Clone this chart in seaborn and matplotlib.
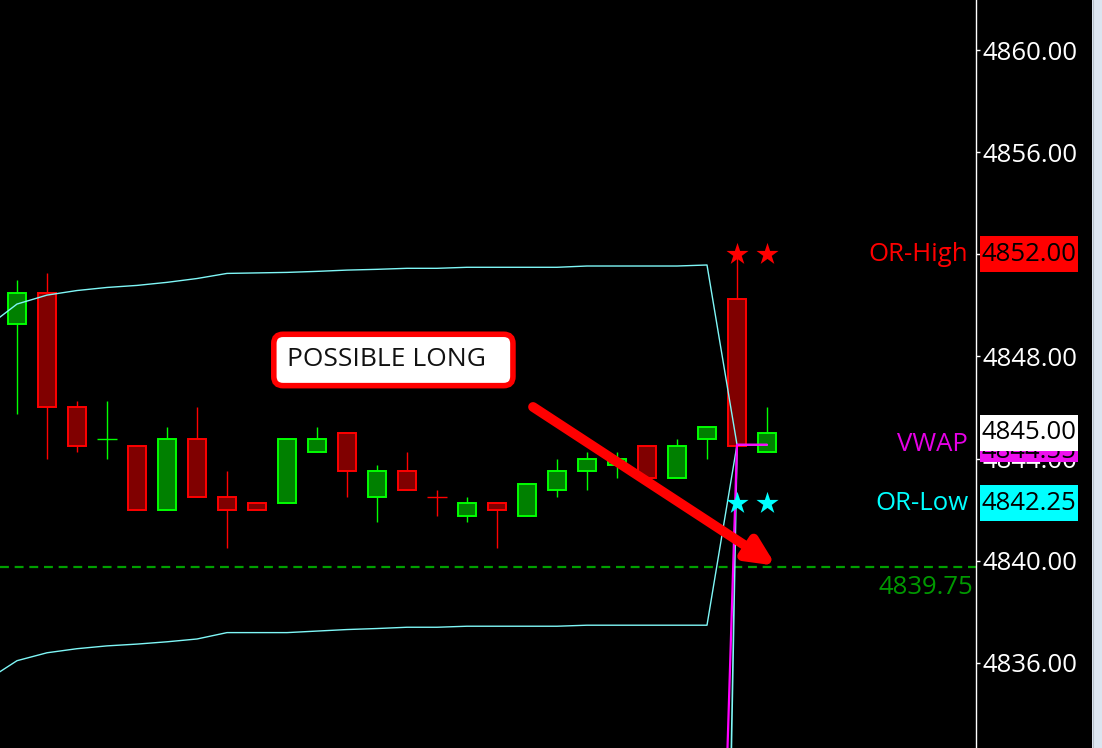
import matplotlib
matplotlib.use("Agg")
import matplotlib.pyplot as plt
import matplotlib.patches as mpatches
import numpy as np
import pandas as pd
import seaborn as sns

# candle data (one bar per slot)
opens = [4849.25, 4850.5, 4846.0, 4844.75, 4844.5, 4842.0, 4844.75, 4842.5, 4842.25, 4842.25,
         4844.25, 4845.0, 4842.5, 4843.5, 4842.5, 4841.75, 4842.25, 4841.75, 4842.75, 4843.5,
         4843.75, 4844.5, 4843.25, 4844.75, 4850.25, 4844.25]
highs = [4851.0, 4851.25, 4846.25, 4846.25, 4844.5, 4845.25, 4846.0, 4843.5, 4842.25, 4844.75,
         4845.25, 4845.0, 4843.75, 4844.25, 4842.75, 4842.5, 4842.25, 4843.0, 4844.0, 4844.25,
         4844.25, 4844.5, 4844.75, 4845.25, 4852.25, 4846.0]
lows = [4845.75, 4844.0, 4844.25, 4844.0, 4842.0, 4842.0, 4842.5, 4840.5, 4842.0, 4842.25,
        4844.25, 4842.5, 4841.5, 4842.75, 4841.75, 4841.5, 4840.5, 4841.75, 4842.5, 4842.75,
        4843.25, 4843.25, 4843.25, 4844.0, 4844.5, 4844.25]
closes = [4850.5, 4846.0, 4844.5, 4844.75, 4842.0, 4844.75, 4842.5, 4842.0, 4842.0, 4844.75,
          4844.75, 4843.5, 4843.5, 4842.75, 4842.5, 4842.25, 4842.0, 4843.0, 4843.5, 4844.0,
          4844.0, 4843.25, 4844.5, 4845.25, 4844.5, 4845.0]
doji_up = [3]  # doji bars drawn in up colour

# VWAP bands
band_x = list(range(-1, 26))
upper_band = [4849.15, 4850.05, 4850.40, 4850.58, 4850.70, 4850.78, 4850.90, 4851.05, 4851.25,
              4851.27, 4851.29, 4851.33, 4851.38, 4851.41, 4851.45, 4851.45, 4851.49, 4851.49,
              4851.49, 4851.49, 4851.54, 4851.54, 4851.54, 4851.54, 4851.58, 4844.54, 4844.54]
lower_band = [4835.32, 4836.08, 4836.39, 4836.55, 4836.66, 4836.73, 4836.82, 4836.93, 4837.18,
              4837.18, 4837.18, 4837.24, 4837.30, 4837.34, 4837.39, 4837.39, 4837.43, 4837.43,
              4837.43, 4837.43, 4837.47, 4837.47, 4837.47, 4837.47, 4837.47, 4844.54, 4844.54]
vwap_x = [23, 24, 25]
vwap = [4807.0, 4844.54, 4844.54]
outer_x = [23, 24, 25]
outer_band = [4781.0, 4844.54, 4844.54]

or_high = 4852.00
or_low = 4842.25
vwap_last = 4844.55
last_price = 4845.00
target = 4839.75
star_x = [24, 25]

yticks = [4836, 4840, 4844, 4848, 4852, 4856, 4860]

note_text = "POSSIBLE LONG  "
note_pos = (9.0, 4847.86)
arrow_tail = (17.2, 4846.02)
arrow_tip = (25.3, 4839.8)

UP_FILL, UP_EDGE = "#008000", "#00ff00"
DN_FILL, DN_EDGE = "#800000", "#ff0000"
BAND = "#7ff7f7"
MAGENTA = "#ff00ff"

sns.set_theme(style="dark")
plt.rcParams["font.family"] = ["Open Sans", "DejaVu Sans"]

W, H = 1102, 748
fig = plt.figure(figsize=(W / 100, H / 100), dpi=100, facecolor="black")
ax = fig.add_axes([0, 0, 976 / W, 1])
ax.set_facecolor("black")

# light strip on the far right
fig.patches.append(mpatches.Rectangle((1092 / W, 0), 10 / W, 1, transform=fig.transFigure,
                                      facecolor="#dce5f0", edgecolor="none", zorder=0))
fig.add_artist(plt.Line2D([1092.5 / W, 1092.5 / W], [0, 1], color="#b8c2cc", lw=0.8))

df = pd.DataFrame({"o": opens, "h": highs, "l": lows, "c": closes})
df["x"] = np.arange(len(df))
df["up"] = (df["c"] > df["o"]) | df["x"].isin(doji_up)

# wicks
for up, g in df.groupby("up"):
    ax.vlines(g["x"], g["l"], g["h"], color=UP_EDGE if up else DN_EDGE, lw=1.0, zorder=2)
# bodies
for up, g in df.groupby("up"):
    bottom = np.minimum(g["o"], g["c"])
    height = (g["o"] - g["c"]).abs()
    flat = height == 0
    ax.bar(g["x"][~flat], height[~flat], bottom=bottom[~flat], width=0.63,
           color=UP_FILL if up else DN_FILL, edgecolor=UP_EDGE if up else DN_EDGE,
           linewidth=1.4, zorder=3)
    ax.hlines(g["o"][flat], g["x"][flat] - 0.32, g["x"][flat] + 0.32,
              color=UP_EDGE if up else DN_EDGE, lw=1.0, zorder=3)

# bands and vwap
sns.lineplot(x=band_x, y=upper_band, color=BAND, lw=1.0, ax=ax, estimator=None, sort=False, zorder=4)
sns.lineplot(x=band_x, y=lower_band, color=BAND, lw=1.0, ax=ax, estimator=None, sort=False, zorder=4)
sns.lineplot(x=outer_x, y=outer_band, color=BAND, lw=1.2, ax=ax, estimator=None, sort=False, zorder=4)
sns.lineplot(x=vwap_x, y=vwap, color=MAGENTA, lw=1.6, ax=ax, estimator=None, sort=False, zorder=4)

# OR stars
sns.scatterplot(x=star_x, y=[or_high] * 2, marker="*", s=280, color="#ff0000", linewidth=0, ax=ax, zorder=6)
sns.scatterplot(x=star_x, y=[or_low] * 2, marker="*", s=280, color="#00ffff", linewidth=0, ax=ax, zorder=6)

# target line
ax.axhline(target, color="#00a000", lw=1.6, ls=(0, (4, 2.6)), zorder=1)

# note and arrow
ax.text(note_pos[0], note_pos[1], note_text, fontsize=19, color="#111111", ha="left", va="center",
        zorder=8, bbox=dict(boxstyle="round,pad=0.5,rounding_size=0.35", fc="white", ec="#ff0000", lw=4))
ax.annotate("", xy=arrow_tip, xytext=arrow_tail, zorder=7,
            arrowprops=dict(arrowstyle="-|>,head_length=0.8,head_width=0.38", mutation_scale=20,
                            color="#ff0000", lw=7, shrinkA=0, shrinkB=0, capstyle="round"))

ax.set_xlim(-17 / 30, 959 / 30)
ax.set_ylim(4832.66, 4861.96)
ax.set_xticks([])
ax.set_yticks(yticks)
ax.set_yticklabels([f"{v:.2f}" for v in yticks])
ax.yaxis.tick_right()
ax.tick_params(axis="y", colors="white", labelcolor="white", labelsize=18.5, length=3, width=1, pad=1.5)
ax.grid(False)
for side in ["top", "left", "bottom"]:
    ax.spines[side].set_visible(False)
ax.spines["right"].set_color("white")
ax.spines["right"].set_linewidth(1.0)
ax.set_xlabel("")
ax.set_ylabel("")

# right-side labels
ytr = ax.get_yaxis_transform()
lab = dict(transform=ytr, ha="right", va="center", fontsize=18.5, clip_on=False, zorder=9)
ax.text(0.992, or_high, "OR-High", color="#ff0000", **lab)
ax.text(0.992, vwap_last, "VWAP", color="#e600e6", **lab)
ax.text(0.992, or_low, "OR-Low", color="#00ffff", **lab)
ax.annotate(f"{target:.2f}", xy=(0.997, target), xycoords=ytr, xytext=(0, -15), textcoords="offset points",
            ha="right", va="center", fontsize=18.5, color="#009900", zorder=9)

# price tags: fixed-size boxes on the price scale
tag_left, tag_right = 980 / 976, 1078 / 976
tag_h = 36 / 25.53  # box height in price units


def price_tag(value, fc, z, text_dy=0):
    ax.add_patch(mpatches.Rectangle((tag_left, value - tag_h / 2), tag_right - tag_left, tag_h,
                                    transform=ytr, facecolor=fc, edgecolor="none",
                                    clip_on=False, zorder=z))
    ax.annotate(f"{value:.2f}", xy=((tag_left + tag_right) / 2, value), xycoords=ytr,
                xytext=(0, text_dy), textcoords="offset points", ha="center", va="center",
                fontsize=18.5, color="black", annotation_clip=False, zorder=z + 0.5)


price_tag(or_high, "#ff0000", 10)
price_tag(vwap_last, "#ee10ee", 10, text_dy=-5)
price_tag(last_price, "white", 11)
price_tag(or_low, "#00ffff", 10)

fig.savefig("out.png", dpi=100, facecolor="black")
